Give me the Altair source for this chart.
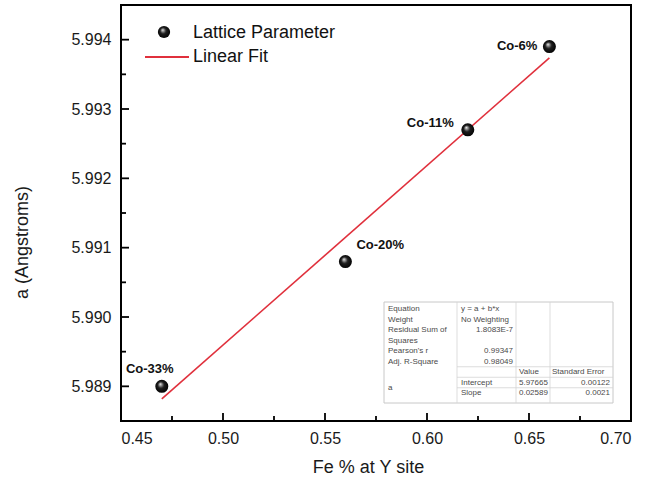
import altair as alt
import pandas as pd

# Measured lattice parameter versus Fe fraction on the Y site
fe_frac = [0.47, 0.56, 0.62, 0.66]
lattice_a = [5.9890, 5.9908, 5.9927, 5.9939]
sample_labels = ["Co-33%", "Co-20%", "Co-11%", "Co-6%"]

# Linear fit coefficients (y = a + b*x)
fit_intercept = 5.97665
fit_slope = 0.02589
fit_x_range = [0.47, 0.66]

# Axis ticks
x_major = [0.45, 0.50, 0.55, 0.60, 0.65, 0.70]
x_minor = [0.475, 0.525, 0.575, 0.625, 0.675]
y_major = [5.989, 5.990, 5.991, 5.992, 5.993, 5.994]
y_minor = [5.9885, 5.9895, 5.9905, 5.9915, 5.9925, 5.9935]

# Fit statistics table, one list per column
stat_names = ["Equation", "Weight", "Residual Sum of", "Squares", "Pearson's r",
              "Adj. R-Square", "", "", ""]
stat_values = ["y = a + b*x", "No Weighting", "1.8083E-7", "", "0.99347",
               "0.98049", "", "Intercept", "Slope"]
param_values = ["", "", "", "", "", "", "Value", "5.97665", "0.02589"]
param_errors = ["", "", "", "", "", "", "Standard Error", "0.00122", "0.0021"]
param_name = "a"

FONT = "Liberation Sans"
W, H = 510, 416
X_DOM = [0.45, 0.70]
Y_DOM = [5.9885, 5.9945]

xs = alt.Scale(domain=X_DOM, nice=False, zero=False)
ys = alt.Scale(domain=Y_DOM, nice=False, zero=False)

pts = pd.DataFrame({"fe": fe_frac, "a": lattice_a, "label": sample_labels})
fit = pd.DataFrame({"fe": fit_x_range,
                    "a": [fit_intercept + fit_slope * v for v in fit_x_range]})

sphere = alt.RadialGradient(
    gradient="radial",
    x1=0.38, y1=0.32, r1=0.0,
    x2=0.5, y2=0.5, r2=0.55,
    stops=[
        alt.GradientStop(offset=0.0, color="#f4f4f4"),
        alt.GradientStop(offset=0.18, color="#9a9a9a"),
        alt.GradientStop(offset=0.45, color="#1e1e1e"),
        alt.GradientStop(offset=1.0, color="#000000"),
    ],
)

fit_line = alt.Chart(fit).mark_line(color="#e0303c", strokeWidth=1.6).encode(
    x=alt.X("fe:Q", scale=xs,
            axis=alt.Axis(values=x_major, format=".2f", title="Fe % at Y site",
                          ticks=False, tickSize=0, domain=False, grid=False,
                          labelPadding=9, titleX=247, titleY=46,
                          titleBaseline="middle")),
    y=alt.Y("a:Q", scale=ys,
            axis=alt.Axis(values=y_major, format=".3f", title="a (Angstroms)",
                          ticks=False, tickSize=0, domain=False, grid=False,
                          labelPadding=10, titleX=-99, titleY=237,
                          titleBaseline="middle")),
)

# Inward ticks along the bottom and left edges; tick lengths are pixel
# lengths converted to data units through the scale spans.
x_per_px = (X_DOM[1] - X_DOM[0]) / W
y_per_px = (Y_DOM[1] - Y_DOM[0]) / H
tick_rows = []
for v in x_major:
    tick_rows.append({"x0": v, "x1": v, "y0": Y_DOM[0], "y1": Y_DOM[0] + 8 * y_per_px})
for v in x_minor:
    tick_rows.append({"x0": v, "x1": v, "y0": Y_DOM[0], "y1": Y_DOM[0] + 5 * y_per_px})
for v in y_major:
    tick_rows.append({"x0": X_DOM[0], "x1": X_DOM[0] + 8 * x_per_px, "y0": v, "y1": v})
for v in y_minor:
    tick_rows.append({"x0": X_DOM[0], "x1": X_DOM[0] + 5 * x_per_px, "y0": v, "y1": v})

ticks = alt.Chart(pd.DataFrame(tick_rows)).mark_rule(
    color="black", strokeWidth=1.8
).encode(
    x=alt.X("x0:Q", scale=xs), x2="x1:Q",
    y=alt.Y("y0:Q", scale=ys), y2="y1:Q",
)

points = alt.Chart(pts).mark_point(
    shape="circle", filled=True, size=170, fill=sphere, opacity=1, strokeWidth=0
).encode(x=alt.X("fe:Q", scale=xs), y=alt.Y("a:Q", scale=ys))

# Sample labels: alignment and offset from each point
label_style = {
    "Co-33%": ("center", -12, -17),
    "Co-20%": ("left", 11, -17),
    "Co-11%": ("right", -14, -7),
    "Co-6%": ("right", -12, -1),
}
label_layers = []
for name, (al, ddx, ddy) in label_style.items():
    label_layers.append(
        alt.Chart(pts).transform_filter(alt.datum.label == name)
        .mark_text(font=FONT, fontSize=13, fontWeight="bold", color="#111",
                   align=al, baseline="middle", dx=ddx, dy=ddy)
        .encode(x=alt.X("fe:Q", scale=xs), y=alt.Y("a:Q", scale=ys), text="label:N")
    )

one = alt.Data(values=[{"k": 1}])

def text_at(s, tx, ty, size, al="left", color="#111", weight="normal"):
    return alt.Chart(one).mark_text(
        font=FONT, fontSize=size, align=al, baseline="middle",
        color=color, fontWeight=weight
    ).encode(x=alt.value(tx), y=alt.value(ty), text=alt.value(s))

def hline(x1, x2, ty, color, width):
    return alt.Chart(one).mark_rule(color=color, strokeWidth=width).encode(
        x=alt.value(x1), x2=alt.value(x2), y=alt.value(ty))

def vline(tx, y1, y2, color, width):
    return alt.Chart(one).mark_rule(color=color, strokeWidth=width).encode(
        x=alt.value(tx), y=alt.value(y1), y2=alt.value(y2))

# Legend in the upper-left corner
legend = [
    alt.Chart(one).mark_point(shape="circle", filled=True, size=150, fill=sphere,
                              opacity=1, strokeWidth=0)
    .encode(x=alt.value(43), y=alt.value(27)),
    text_at("Lattice Parameter", 72, 28, 18),
    hline(24, 68, 52, "#e0303c", 1.8),
    text_at("Linear Fit", 72, 52, 18),
]

# Fit statistics table
tx0, tx1, ty0, ty1 = 263, 492, 297, 398
col_lines = [336, 395, 429]
row_y = [304 + i * 10.5 for i in range(len(stat_names))]
grid_c = "#d4d4d4"
table = [
    alt.Chart(one).mark_rect(fill="white", stroke="#c8c8c8", strokeWidth=1).encode(
        x=alt.value(tx0), x2=alt.value(tx1), y=alt.value(ty0), y2=alt.value(ty1)),
]
for cx in col_lines:
    table.append(vline(cx, ty0, ty1, grid_c, 0.8))
for yy in [(row_y[5] + row_y[6]) / 2, (row_y[6] + row_y[7]) / 2,
           (row_y[7] + row_y[8]) / 2]:
    table.append(hline(col_lines[0], tx1, yy, grid_c, 0.8))

tc = "#4a4a4a"
fs = 8
for i in range(len(stat_names)):
    if stat_names[i]:
        table.append(text_at(stat_names[i], 267, row_y[i], fs, color=tc))
    if stat_values[i]:
        right = stat_values[i][0].isdigit()
        table.append(text_at(stat_values[i], 392 if right else 340, row_y[i], fs,
                             al="right" if right else "left", color=tc))
    if param_values[i]:
        table.append(text_at(param_values[i], 398, row_y[i], fs, color=tc))
    if param_errors[i]:
        right = param_errors[i][0].isdigit()
        table.append(text_at(param_errors[i], 489 if right else 431, row_y[i], fs,
                             al="right" if right else "left", color=tc))
table.append(text_at(param_name, 267, (row_y[7] + row_y[8]) / 2, fs, color=tc))

chart = alt.layer(
    fit_line, ticks, *table, points, *label_layers, *legend
).properties(
    width=W, height=H,
    autosize=alt.AutoSizeParams(type="none"),
    padding={"left": 121, "top": 5, "right": 17, "bottom": 61},
).configure_view(
    stroke="black", strokeWidth=2
).configure_axis(
    labelFont=FONT, titleFont=FONT, labelFontSize=16, titleFontSize=18,
    labelColor="#1a1a1a", titleColor="#1a1a1a", titleFontWeight="normal"
)

chart.save("out.html", embed_options={"renderer": "svg", "actions": False})
